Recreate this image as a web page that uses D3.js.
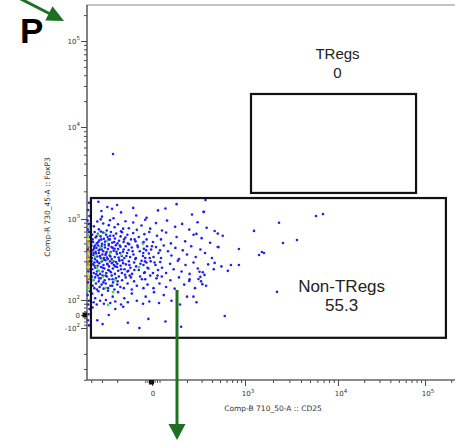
<!DOCTYPE html>
<html>
<head>
<meta charset="utf-8">
<script src="https://cdn.jsdelivr.net/npm/d3@7"></script>
<style>
  body { margin: 0; background: #fff; }
  svg { display: block; }
</style>
</head>
<body>
<svg id="chart" width="455" height="443"></svg>
<script>
// ---- events: [CD25, FoxP3] (compensated intensities) ----
const blueEvents = [
  [-330,1540],[-180,1180],[-260,1350],[-120,1090],[60,1240],[150,1450],[-60,1030],[230,1120],[-300,1060],[110,1300],[-220,1020],[320,1200],
  [-305,1220],[-200,1420],[-229,1290],[-130,1320],
  [-372,812],[-340,930],[-326,745],[-290,880],[-264,720],[-242,965],[-214,790],[-195,860],[-180,705],[-160,940],[-146,770],[-130,905],[-118,735],[-104,830],[-75,980],[-20,760],[40,890],[100,720],[115,955],[144,800],[175,870],[213,740],[268,910],[345,780],[431,710],[-250,840],[-310,990],[-170,760],
  [-390,640],[-380,520],[-365,690],[-355,590],[-345,500],[-335,655],[-322,545],[-312,610],[-300,495],[-292,680],[-285,570],[-276,525],[-268,640],[-258,600],[-250,490],[-243,560],[-236,690],[-228,510],[-220,620],[-212,575],[-205,660],[-198,500],[-190,540],[-182,610],[-175,685],[-168,520],[-160,590],[-152,640],[-145,488],[-138,560],[-130,670],[-122,530],[-112,600],[-100,505],[-85,650],[-60,560],[-30,690],[10,520],[50,620],[90,560],[112,680],[128,500],[150,600],[190,530],[240,640],[300,580],[380,510],[470,660],
  [-398,470],[-392,330],[-386,410],[-378,360],[-370,450],[-362,320],[-356,395],[-348,440],[-340,345],[-333,470],[-326,380],[-318,420],[-311,330],[-304,460],[-297,365],[-290,400],[-283,315],[-277,445],[-270,375],[-263,335],[-256,425],[-250,470],[-244,355],[-238,390],[-231,320],[-225,440],[-219,405],[-213,340],[-207,475],[-201,370],[-195,425],[-189,315],[-183,455],[-177,350],[-171,395],[-165,330],[-159,460],[-153,380],[-147,415],[-141,340],[-135,445],[-129,365],[-123,320],[-116,470],[-109,400],[-100,350],[-90,430],[-75,330],[-55,460],[-35,375],[-10,420],[15,340],[40,450],[65,380],[90,330],[105,470],[118,400],[130,355],[145,440],[160,320],[178,410],[200,365],[225,460],[255,340],[290,420],[330,380],[400,330],[480,450],
  [-396,300],[-389,240],[-381,275],[-374,215],[-367,290],[-359,250],[-351,208],[-344,305],[-337,265],[-329,230],[-322,285],[-315,210],[-308,255],[-301,300],[-295,225],[-288,270],[-281,245],[-274,310],[-267,215],[-261,280],[-254,235],[-248,260],[-242,300],[-236,220],[-230,285],[-224,245],[-218,270],[-212,210],[-206,295],[-200,255],[-194,230],[-188,305],[-182,265],[-176,215],[-170,285],[-164,240],[-158,275],[-152,225],[-146,300],[-140,250],[-134,210],[-127,290],[-120,260],[-112,235],[-104,305],[-95,270],[-80,220],[-62,290],[-40,245],[-15,300],[10,215],[35,270],[60,235],[82,295],[100,250],[112,215],[125,280],[138,240],[155,305],[172,225],[192,270],[215,210],[240,290],[270,245],[310,220],[360,275],[420,240],[520,260],
  [-394,195],[-385,150],[-377,175],[-368,140],[-360,190],[-352,160],[-343,135],[-335,200],[-327,170],[-319,145],[-311,185],[-303,155],[-295,200],[-287,138],[-279,175],[-271,160],[-263,195],[-255,140],[-247,180],[-239,150],[-231,200],[-223,165],[-215,135],[-207,185],[-199,155],[-191,195],[-183,145],[-175,175],[-167,140],[-159,190],[-151,160],[-143,200],[-135,135],[-127,170],[-118,150],[-108,195],[-95,140],[-75,180],[-50,155],[-20,200],[15,140],[45,185],[75,160],[98,195],[112,145],[126,175],[142,138],[160,190],[185,155],[215,180],[250,140],[295,170],[340,150],
  [-390,120],[-375,85],[-360,105],[-345,70],[-330,128],[-315,95],[-300,115],[-285,75],[-270,100],[-255,130],[-240,80],[-225,110],[-210,90],[-195,125],[-180,70],[-165,105],[-150,85],[-135,120],[-118,95],[-100,75],[-70,110],[-30,90],[20,125],[70,80],[105,115],[130,95],[165,70],[200,110],[260,85],
  [-385,50],[-340,-40],[-295,-70],[-250,0],[-210,40],[-170,55],[-150,-60],[-110,-100],[-40,-30],[110,-50],[170,-90],
  [-385,560],[-371,430],[-366,265],[-352,375],[-347,610],[-338,295],[-331,520],[-324,185],[-316,350],[-309,700],[-302,420],[-294,250],[-286,330],[-279,480],[-272,200],[-265,390],[-258,275],[-251,560],[-245,230],[-239,345],[-232,450],[-226,180],[-221,300],[-216,520],[-210,260],[-204,395],[-197,170],[-192,335],[-186,470],[-180,240],[-174,310],[-168,420],[-162,205],[-156,350],[-150,500],[-144,270],[-138,190],[-132,400],[-126,235],[-121,330],[-115,450],[-107,280],[-97,380],[-88,215],[-78,300],[-65,410],[-50,250],[-25,330],[0,460],[25,290],[55,200],[80,410],
  [-376,380],[-362,470],[-343,225],[-327,410],[-305,560],[-289,165],[-273,360],[-257,320],[-241,620],[-228,150],[-214,430],[-199,280],[-185,380],[-166,560],[-148,230],[-125,560],[-103,180],[-93,520],
  [334,1610],[316,1190],[260,655],[539,620],[1250,713],[2320,900],[469,452],[845,426],[1520,392],[1600,380],[1415,360],[431,287],[676,271],[845,271],[621,229],[283,223],[290,193],[325,204],[213,172],[275,182],[307,157],[239,110],[570,-8],[2210,126],[5800,1080],[6900,1130],[3620,550],[2560,505],[-223,5090]
];

const greenEvents = [
  [-277,671],[-262,535],[-316,451],[-242,380],[-300,312],[-229,303],[-111,255],[-292,192],[-212,177],[-325,228],
  [-270,141],[-223,125],[-255,67],[-100,491],[-180,360],[-361,340],[-380,177],[-333,637],[-342,249]
];

// events piled against the low CD25 edge: [CD25, FoxP3, density level]
const edgeEvents = [
  [-425,1500,0],[-435,1250,0],[-420,1080,0],[-440,960,0],[-428,870,0],[-418,800,1],[-436,740,0],[-424,690,0],[-432,640,1],[-416,600,0],
  [-440,565,2],[-426,530,3],[-434,500,1],[-420,470,2],[-430,445,3],[-438,420,0],[-418,400,3],[-428,380,2],[-436,355,1],[-422,335,3],
  [-432,315,2],[-416,300,0],[-440,285,3],[-426,270,1],[-434,255,2],[-420,240,3],[-430,225,0],[-438,210,2],[-418,195,1],[-428,180,3],
  [-436,165,0],[-422,152,2],[-432,140,1],[-416,128,0],[-440,115,0],[-426,95,0],[-434,70,0],[-420,40,0],[-430,5,0],[-438,-40,0],[-424,-80,0]
];

// ---- gates ----
const gateNames  = ["TRegs", "Non-TRegs"];
const gateFreqs  = ["0", "55.3"];
const gateCd25   = [[1160, 78900], [-403, 174000]];
const gateFoxp3  = [[1920, 24200], [-130, 1690]];

// ---- axis ticks ----
const xMajorTicks  = [0, 1e3, 1e4, 1e5];
const xMajorLabels = [["0", ""], ["10", "3"], ["10", "4"], ["10", "5"]];
const yMajorTicks  = [-100, 0, 100, 1e3, 1e4, 1e5];
const yMajorLabels = [["-10", "2"], ["0", ""], ["10", "2"], ["10", "3"], ["10", "4"], ["10", "5"]];
const xTitle = "Comp-B 710_50-A :: CD25";
const yTitle = "Comp-R 730_45-A :: FoxP3";

// ---- biexponential display transform ----
const LIN_HALF = 0.15;   // width of the linear zone (±100) in decade units
function bi(v) {
  const a = Math.abs(v);
  return a <= 100 ? v / 100 * LIN_HALF : Math.sign(v) * (LIN_HALF + Math.log10(a / 100));
}
function inv(u) {
  const a = Math.abs(u);
  return a <= LIN_HALF ? u / LIN_HALF * 100 : Math.sign(u) * 100 * 10 ** (a - LIN_HALF);
}
const knots = [-1000, -100, 0, 100, 1e3, 1e4, 1e5].map(bi);
const xLin = d3.scaleLinear().domain(knots).range([57, 143, 152, 162, 245, 338, 425]);
const yLin = d3.scaleLinear().domain(knots).range([414, 328, 315, 300, 219, 127, 41]);
const X = v => xLin(bi(v));
const Y = v => yLin(bi(v));

const plot = { left: 87, top: 5, right: 462, bottom: 380 };
const svg = d3.select("#chart");
const font = "'DejaVu Sans', sans-serif";

// frame
svg.append("rect")
  .attr("x", plot.left).attr("y", plot.top)
  .attr("width", plot.right - plot.left).attr("height", plot.bottom - plot.top)
  .attr("fill", "none").attr("stroke", "#8a8a8a").attr("stroke-width", 1);

// minor tick values: 2..9 per decade, and a fine ladder through the linear zone
function minorTicks(lo, hi) {
  const out = [];
  for (let e = 2; e <= 5; e++) {
    for (let k = 2; k <= 9; k++) { out.push(k * 10 ** e); out.push(-k * 10 ** e); }
  }
  for (let v = -75; v <= 75; v += 25) if (v !== 0) out.push(v);
  return out.filter(v => v >= lo && v <= hi);
}
const xMinor = minorTicks(inv(xLin.invert(plot.left)), inv(xLin.invert(plot.right)));
const yMinor = minorTicks(inv(yLin.invert(plot.bottom)), inv(yLin.invert(plot.top)));

const tickColor = "#4a4a4a";

// y axis
const yAxis = svg.append("g").attr("transform", `translate(${plot.left},0)`);
yAxis.append("g").call(d3.axisLeft(yLin).tickValues(yMajorTicks.map(bi)).tickSize(6).tickFormat(""));
yAxis.append("g").call(d3.axisLeft(yLin).tickValues(yMinor.map(bi)).tickSize(3).tickFormat(""));
yAxis.selectAll(".domain").remove();
yAxis.selectAll("line").attr("stroke", tickColor);
yAxis.append("line").attr("x1", 0).attr("x2", 0).attr("y1", plot.top).attr("y2", plot.bottom)
  .attr("stroke", "#555").attr("stroke-width", 1.2);
yAxis.append("rect").attr("x", -4.5).attr("y", Y(0) - 2.5).attr("width", 4.5).attr("height", 5).attr("fill", "#111");

// x axis
const xAxis = svg.append("g").attr("transform", `translate(0,${plot.bottom})`);
xAxis.append("g").call(d3.axisBottom(xLin).tickValues(xMajorTicks.map(bi)).tickSize(6).tickFormat(""));
xAxis.append("g").call(d3.axisBottom(xLin).tickValues(xMinor.map(bi)).tickSize(3).tickFormat(""));
xAxis.selectAll(".domain").remove();
xAxis.selectAll("line").attr("stroke", tickColor);
xAxis.append("line").attr("x1", plot.left).attr("x2", plot.right).attr("y1", 0).attr("y2", 0)
  .attr("stroke", "#555").attr("stroke-width", 1.2);
xAxis.append("rect").attr("x", X(0) - 3).attr("y", 0).attr("width", 5).attr("height", 4.5).attr("fill", "#111");

// tick labels with superscript exponents
function powerLabel(sel, base, exp) {
  sel.append("tspan").text(base);
  if (exp) sel.append("tspan").attr("dy", -3.5).attr("font-size", 5.5).text(exp);
}
yMajorTicks.forEach((v, i) => {
  const t = svg.append("text").attr("x", 80).attr("y", Y(v) + 2.5)
    .attr("text-anchor", "end").attr("font-family", font).attr("font-size", 7).attr("fill", "#333");
  powerLabel(t, yMajorLabels[i][0], yMajorLabels[i][1]);
});
xMajorTicks.forEach((v, i) => {
  const t = svg.append("text").attr("x", X(v) + (xMajorLabels[i][1] ? 3 : 1)).attr("y", 396)
    .attr("text-anchor", "middle").attr("font-family", font).attr("font-size", 7).attr("fill", "#333");
  powerLabel(t, xMajorLabels[i][0], xMajorLabels[i][1]);
});

// axis titles
svg.append("text").attr("x", 273).attr("y", 411).attr("text-anchor", "middle")
  .attr("font-family", font).attr("font-size", 7.5).attr("fill", "#333").text(xTitle);
svg.append("text").attr("transform", "translate(50,207) rotate(-90)").attr("text-anchor", "middle")
  .attr("font-family", font).attr("font-size", 7.5).attr("fill", "#333").text(yTitle);

// events
const dots = svg.append("g");
dots.selectAll("circle.b").data(blueEvents).join("circle").attr("class", "b")
  .attr("cx", d => X(d[0])).attr("cy", d => Y(d[1])).attr("r", 1.3).attr("fill", "#2020f0");
dots.selectAll("circle.g").data(greenEvents).join("circle").attr("class", "g")
  .attr("cx", d => X(d[0])).attr("cy", d => Y(d[1])).attr("r", 1.35).attr("fill", "#3be63b");
const levelColor = ["#2020f0", "#3be63b", "#e6d21e", "#f05a14"];
dots.selectAll("circle.e").data(edgeEvents).join("circle").attr("class", "e")
  .attr("cx", d => X(d[0])).attr("cy", d => Y(d[1])).attr("r", 1.3).attr("fill", d => levelColor[d[2]]);

// gates
gateNames.forEach((name, i) => {
  const x0 = X(gateCd25[i][0]), x1 = X(gateCd25[i][1]);
  const y0 = Y(gateFoxp3[i][1]), y1 = Y(gateFoxp3[i][0]);
  svg.append("rect").attr("x", x0).attr("y", y0).attr("width", x1 - x0).attr("height", y1 - y0)
    .attr("fill", "none").attr("stroke", "#111").attr("stroke-width", 2.2);
});
// gate names and frequencies
const labelFont = "'Liberation Sans', Arial, sans-serif";
const tregX = (X(gateCd25[0][0]) + X(gateCd25[0][1])) / 2 + 4;
const tregTop = Y(gateFoxp3[0][1]);
svg.append("text").attr("x", tregX).attr("y", tregTop - 35).attr("text-anchor", "middle")
  .attr("font-family", labelFont).attr("font-size", 15).attr("fill", "#222").text(gateNames[0]);
svg.append("text").attr("x", tregX).attr("y", tregTop - 16).attr("text-anchor", "middle")
  .attr("font-family", labelFont).attr("font-size", 15).attr("fill", "#222").text(gateFreqs[0]);
const nonX = X(1.1e4), nonBottom = Y(gateFoxp3[1][0]);
svg.append("text").attr("x", nonX).attr("y", nonBottom - 46).attr("text-anchor", "middle")
  .attr("font-family", labelFont).attr("font-size", 17).attr("fill", "#222").text(gateNames[1]);
svg.append("text").attr("x", nonX).attr("y", nonBottom - 27).attr("text-anchor", "middle")
  .attr("font-family", labelFont).attr("font-size", 17).attr("fill", "#222").text(gateFreqs[1]);

// panel letter
svg.append("text").attr("x", 20).attr("y", 43).attr("font-family", labelFont)
  .attr("font-weight", "bold").attr("font-size", 35).attr("fill", "#000").text("P");

// annotation arrows
const arrowGreen = "#1d6f24";
function arrow(x1, y1, x2, y2, headLen, headHalf, width) {
  const dx = x2 - x1, dy = y2 - y1, L = Math.hypot(dx, dy);
  const ux = dx / L, uy = dy / L, bx = x2 - ux * headLen, by = y2 - uy * headLen;
  svg.append("line").attr("x1", x1).attr("y1", y1).attr("x2", bx + ux).attr("y2", by + uy)
    .attr("stroke", arrowGreen).attr("stroke-width", width);
  svg.append("path")
    .attr("d", `M${x2},${y2}L${bx - uy * headHalf},${by + ux * headHalf}L${bx + uy * headHalf},${by - ux * headHalf}Z`)
    .attr("fill", arrowGreen);
}
arrow(19, -2, 64, 21, 17, 8, 3);
arrow(177, 290, 177, 440, 16, 8.5, 3);
</script>
</body>
</html>
